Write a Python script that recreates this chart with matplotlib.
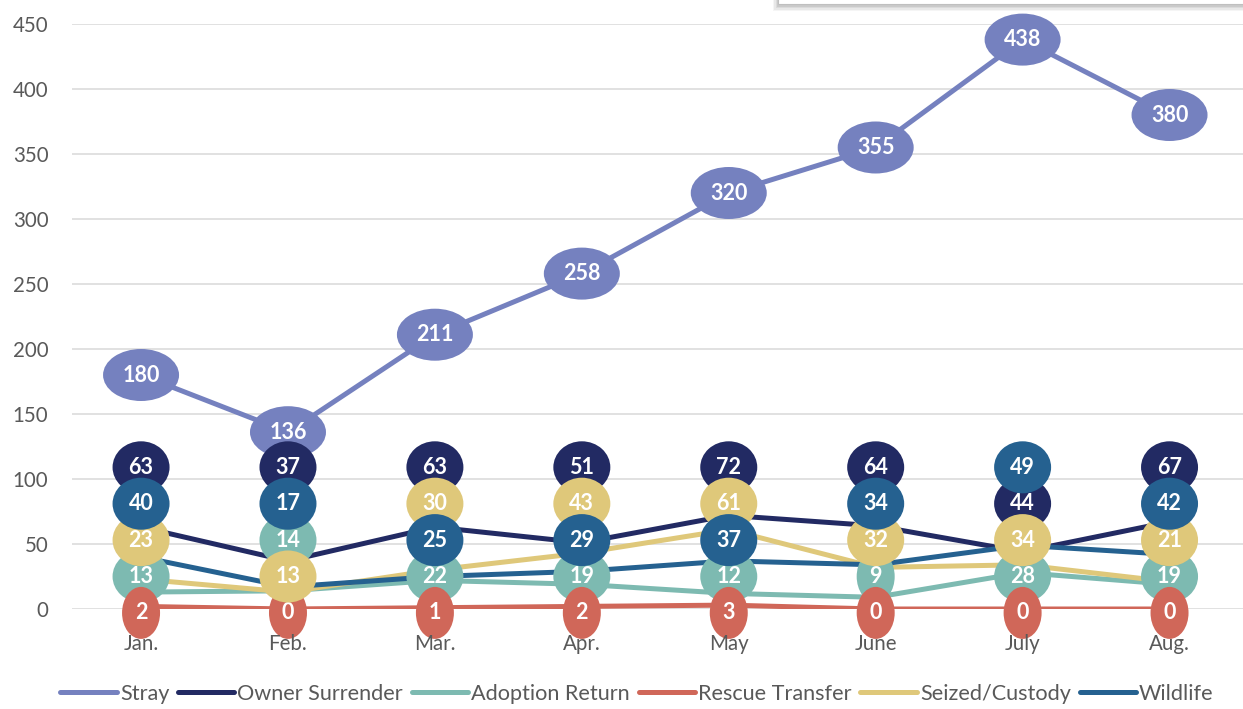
import matplotlib
matplotlib.use("Agg")
import matplotlib.pyplot as plt
from matplotlib.patches import Ellipse, Rectangle
from matplotlib.lines import Line2D
from matplotlib.transforms import ScaledTranslation
import numpy as np

months = ["Jan.", "Feb.", "Mar.", "Apr.", "May", "June", "July", "Aug."]
series_names = ["Stray", "Owner Surrender", "Adoption Return",
                "Rescue Transfer", "Seized/Custody", "Wildlife"]
stray = [180, 136, 211, 258, 320, 355, 438, 380]
owner_surrender = [63, 37, 63, 51, 72, 64, 44, 67]
adoption_return = [13, 14, 22, 19, 12, 9, 28, 19]
rescue_transfer = [2, 0, 1, 2, 3, 0, 0, 0]
seized_custody = [23, 13, 30, 43, 61, 32, 34, 21]
wildlife = [40, 17, 25, 29, 37, 34, 49, 42]
y_ticks = [0, 50, 100, 150, 200, 250, 300, 350, 400, 450]

colors = ["#7581BF", "#222A63", "#7DBAB1", "#D06759", "#DFC87A", "#256190"]
all_series = [stray, owner_surrender, adoption_return, rescue_transfer,
              seized_custody, wildlife]

FONT = ["Lato", "DejaVu Sans"]
plt.rcParams["font.family"] = FONT
GREY = "#595959"
DPI = 100

fig = plt.figure(figsize=(12.43, 7.09), dpi=DPI)
ax = fig.add_axes([72 / 1243, 100 / 709, 1171 / 1243, 585 / 709])
ax.set_xlim(-0.47, 7.5)
ax.set_ylim(0, 450)
for s in ax.spines.values():
    s.set_visible(False)
ax.set_yticks(y_ticks)
ax.set_xticks(range(len(months)))
ax.set_xticklabels(months)
ax.tick_params(axis="both", length=0, labelcolor=GREY, labelsize=14.8)
ax.tick_params(axis="y", pad=17)
ax.tick_params(axis="x", pad=18)
for lbl in ax.get_xticklabels():
    lbl.set_zorder(40)
ax.set_axisbelow(True)
ax.grid(axis="y", color="#D9D9D9", linewidth=1.1)
ax.xaxis.set_zorder(40)

x = np.arange(len(months))
for i, (vals, c) in enumerate(zip(all_series, colors)):
    ax.plot(x, vals, color=c, linewidth=3.6, zorder=2 + i * 0.1,
            solid_capstyle="round")

# label stacking: stray at its value, others stacked by rank in each month
others = all_series[1:]
label_y = {}
for m in range(len(months)):
    vals_m = [s[m] for s in others]
    order = sorted(range(len(others)), key=lambda k: (vals_m[k], k))
    for rank, k in enumerate(order):
        label_y[(k + 1, m)] = -3 + 28 * rank
for m in range(len(months)):
    label_y[(0, m)] = stray[m]


def ell_width(v):
    n = len(str(v))
    return 19 + 19 * n


for i, (vals, c) in enumerate(zip(all_series, colors)):
    for m, v in enumerate(vals):
        ly = label_y[(i, m)]
        tr = fig.dpi_scale_trans + ScaledTranslation(m, ly, ax.transData)
        e = Ellipse((0, 0), width=ell_width(v) / DPI, height=52 / DPI,
                    transform=tr, facecolor=c, edgecolor="none",
                    zorder=10 + 2 * i, clip_on=False)
        ax.add_patch(e)
        ax.text(m, ly, str(v), ha="center", va="center", color="white",
                fontsize=15.5, fontweight="bold", zorder=11 + 2 * i,
                clip_on=False)

# partially visible box at the top right
for k, a in enumerate([0.04, 0.05, 0.06, 0.07]):
    d = (4 - k) * 1.2
    fig.patches.append(Rectangle(((778 - d) / 1243, (709 - 4 - d - 2) / 709),
                                 (480) / 1243, 40 / 709,
                                 transform=fig.transFigure, facecolor="black",
                                 alpha=a, edgecolor="none", zorder=0))
fig.patches.append(Rectangle((778 / 1243, (709 - 4) / 709), 480 / 1243, 40 / 709,
                             transform=fig.transFigure, facecolor="white",
                             edgecolor="#BFBFBF", linewidth=0.8, zorder=1))

handles = [Line2D([0], [0], color=c, linewidth=3.6, solid_capstyle="round")
           for c in colors]
leg = fig.legend(handles, series_names, loc="center", ncol=6,
                 bbox_to_anchor=(637 / 1243, 1 - 694 / 709), frameon=False,
                 fontsize=15.6, handlelength=2.6, handletextpad=0.15,
                 columnspacing=0.4, borderpad=0, borderaxespad=0)
for t in leg.get_texts():
    t.set_color(GREY)

fig.savefig("out.png", dpi=DPI)
